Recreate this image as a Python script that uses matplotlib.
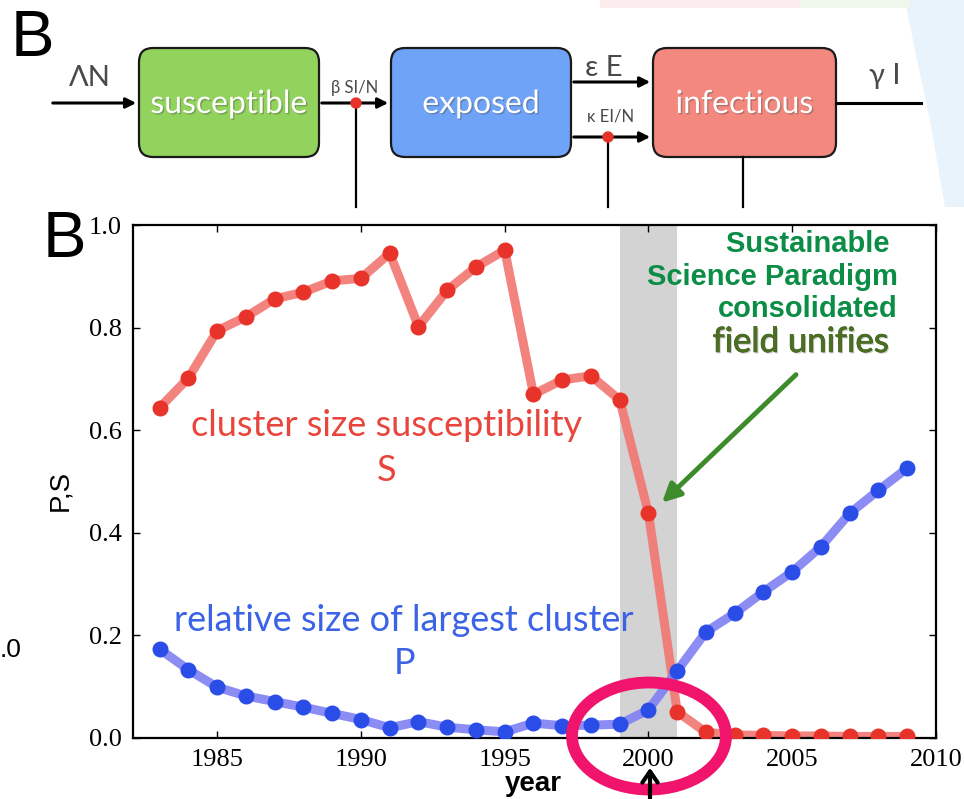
import matplotlib
matplotlib.use('Agg')
import matplotlib.pyplot as plt
import matplotlib.patheffects as pe
from matplotlib.patches import FancyBboxPatch, Ellipse, Rectangle, Circle, Polygon
import numpy as np

# data
years = list(range(1983, 2010))
S = [0.644, 0.702, 0.794, 0.821, 0.856, 0.869, 0.891, 0.896, 0.945, 0.802,
     0.873, 0.918, 0.951, 0.670, 0.698, 0.706, 0.659, 0.438, 0.051, 0.011,
     0.006, 0.005, 0.004, 0.004, 0.003, 0.003, 0.003]
P = [0.173, 0.133, 0.099, 0.082, 0.071, 0.060, 0.048, 0.036, 0.020, 0.032,
     0.021, 0.016, 0.012, 0.029, 0.024, 0.025, 0.027, 0.055, 0.131, 0.207,
     0.243, 0.285, 0.324, 0.373, 0.438, 0.483, 0.526]
xticks = [1985, 1990, 1995, 2000, 2005, 2010]
yticks = [0.0, 0.2, 0.4, 0.6, 0.8, 1.0]
span = (1999, 2001)

# diagram labels
boxes = ['susceptible', 'exposed', 'infectious']
box_cols = ['#92d35d', '#6fa3f7', '#f2887e']

W, H = 964, 799
fig = plt.figure(figsize=(W/100, H/100), dpi=100)
fig.patch.set_facecolor('white')

# background / diagram layer in pixel coordinates
bg = fig.add_axes([0, 0, 1, 1], zorder=0)
bg.set_xlim(0, W)
bg.set_ylim(H, 0)
bg.axis('off')

bg.add_patch(Polygon([(905, 0), (964, 0), (964, 207), (945, 207), (930, 120), (915, 50)],
                     closed=True, color='#e8f3fb', lw=0))
bg.add_patch(Rectangle((600, 0), 200, 8, color='#fcecee', lw=0))
bg.add_patch(Rectangle((800, 0), 110, 8, color='#eef7ea', lw=0))

gill = ['Lato', 'DejaVu Sans']
shadow = [pe.withSimplePatchShadow(offset=(1, -1), shadow_rgbFace='#444444', alpha=0.35)]
box_x = [(139, 319), (391, 571), (653, 836)]
for (x0, x1), name, col in zip(box_x, boxes, box_cols):
    bg.add_patch(FancyBboxPatch((x0 + 14, 48 + 14), x1 - x0 - 28, 109 - 28,
                                boxstyle='round,pad=14', fc=col, ec='#1a1a1a', lw=1.6))
    bg.text((x0 + x1)/2, 104, name, color='white', fontsize=23,
            family=gill, ha='center', va='center', path_effects=shadow)

arr = dict(arrowstyle='-|>,head_length=0.6,head_width=0.3', color='black', lw=2.2)
bg.annotate('', xy=(139, 103), xytext=(50, 103), arrowprops=arr)
bg.annotate('', xy=(391, 103), xytext=(319, 103), arrowprops=arr)
bg.annotate('', xy=(653, 82), xytext=(571, 82), arrowprops=arr)
bg.annotate('', xy=(653, 137), xytext=(571, 137), arrowprops=arr)
bg.plot([836, 921], [103, 103], color='black', lw=2.2)
bg.plot([356, 356], [103, 207], color='black', lw=1.6)
bg.plot([608, 608], [137, 207], color='black', lw=1.6)
bg.plot([743, 743], [157, 207], color='black', lw=1.6)
bg.add_patch(Circle((356, 103), 5, color='#e8332a', zorder=5))
bg.add_patch(Circle((608, 137), 5, color='#e8332a', zorder=5))

lab = dict(color='#4a4a4a', family=gill, ha='center', va='center')
bg.text(90, 78, 'ΛN', fontsize=21, **lab)
bg.text(355, 88, 'β SI/N', fontsize=12, **lab)
bg.text(604, 68, 'ε E', fontsize=21, **lab)
bg.text(611, 117, 'κ EI/N', fontsize=12, **lab)
bg.text(885, 76, 'γ I', fontsize=21, **lab)

bg.text(32, 39, 'B', fontsize=47, family='Liberation Sans', ha='center', va='center')
bg.text(64, 240, 'B', fontsize=47, family='Liberation Sans', ha='center', va='center')
bg.text(0, 650, '.0', fontsize=19, family='Liberation Sans', ha='left', va='center')

# main chart
ax = fig.add_axes([133/W, 61/H, 803/W, 513/H], zorder=1)
ax.set_facecolor('none')
ax.axvspan(span[0], span[1], color='#d3d3d3', lw=0, zorder=0)
ax.plot(years, S, color='#f27670', lw=6.5, alpha=0.9, solid_capstyle='round', zorder=2)
ax.plot(years, S, 'o', color='#e8332a', ms=10.5, zorder=3)
ax.plot(years, P, color='#8080f4', lw=6.5, alpha=0.9, solid_capstyle='round', zorder=2)
ax.plot(years, P, 'o', color='#2a4de8', ms=10.5, zorder=3)

ax.set_xlim(1982.07, 2010)
ax.set_ylim(0, 1.0)
ax.set_xticks(xticks)
ax.set_yticks(yticks)
ax.set_yticklabels(['%.1f' % v for v in yticks])
ax.tick_params(direction='in', length=5, width=1, top=True, right=True,
               labelsize=19, pad=8)
for t in ax.get_xticklabels() + ax.get_yticklabels():
    t.set_family('Liberation Serif')
for s in ax.spines.values():
    s.set_linewidth(1.6)

ax.text(1990.9, 0.610, 'cluster size susceptibility', color='#e8453c', fontsize=26,
        family=gill, ha='center', va='center')
ax.text(1990.9, 0.522, 'S', color='#e8453c', fontsize=26, family=gill, ha='center', va='center')
ax.text(1991.5, 0.230, 'relative size of largest cluster', color='#3b63e6', fontsize=26,
        family=gill, ha='center', va='center')
ax.text(1991.5, 0.146, 'P', color='#3b63e6', fontsize=26, family=gill, ha='center', va='center')

ax.text(2008.68, 0.899, 'Sustainable \nScience Paradigm\nconsolidated', color='#0b8d45',
        fontsize=21, fontweight='bold', family='Liberation Sans', ha='right', va='center',
        linespacing=1.2)
ax.text(2005.3, 0.772, 'field unifies', color='#4a6e22', fontsize=25,
        family=gill, ha='center', va='center',
        path_effects=[pe.withStroke(linewidth=0.5, foreground='#4a6e22'),
                      pe.withSimplePatchShadow(offset=(1, -1), alpha=0.25)])
ax.annotate('', xy=(2000.4, 0.455), xytext=(2005.2, 0.712),
            arrowprops=dict(arrowstyle='-|>,head_length=1.1,head_width=0.55',
                            color='#3d8b2a', lw=3.5))

fig.text(60/W, 1 - 490/H, 'P,S', rotation=90, fontsize=20, family='Liberation Sans',
         ha='center', va='center')
fig.text(533/W, 1 - 784/H, 'year', fontsize=20, fontweight='bold', family='Liberation Sans',
         ha='center', va='center')

# highlight on top
top = fig.add_axes([0, 0, 1, 1], zorder=2)
top.set_xlim(0, W)
top.set_ylim(H, 0)
top.axis('off')
top.patch.set_alpha(0)
top.add_patch(Ellipse((649, 736), 154, 107, fill=False, ec='#f0146c', lw=8.5))
top.annotate('', xy=(650, 765), xytext=(650, 805),
             arrowprops=dict(arrowstyle='->,head_length=0.8,head_width=0.55',
                             color='black', lw=3))

fig.savefig('out.png', dpi=100)
